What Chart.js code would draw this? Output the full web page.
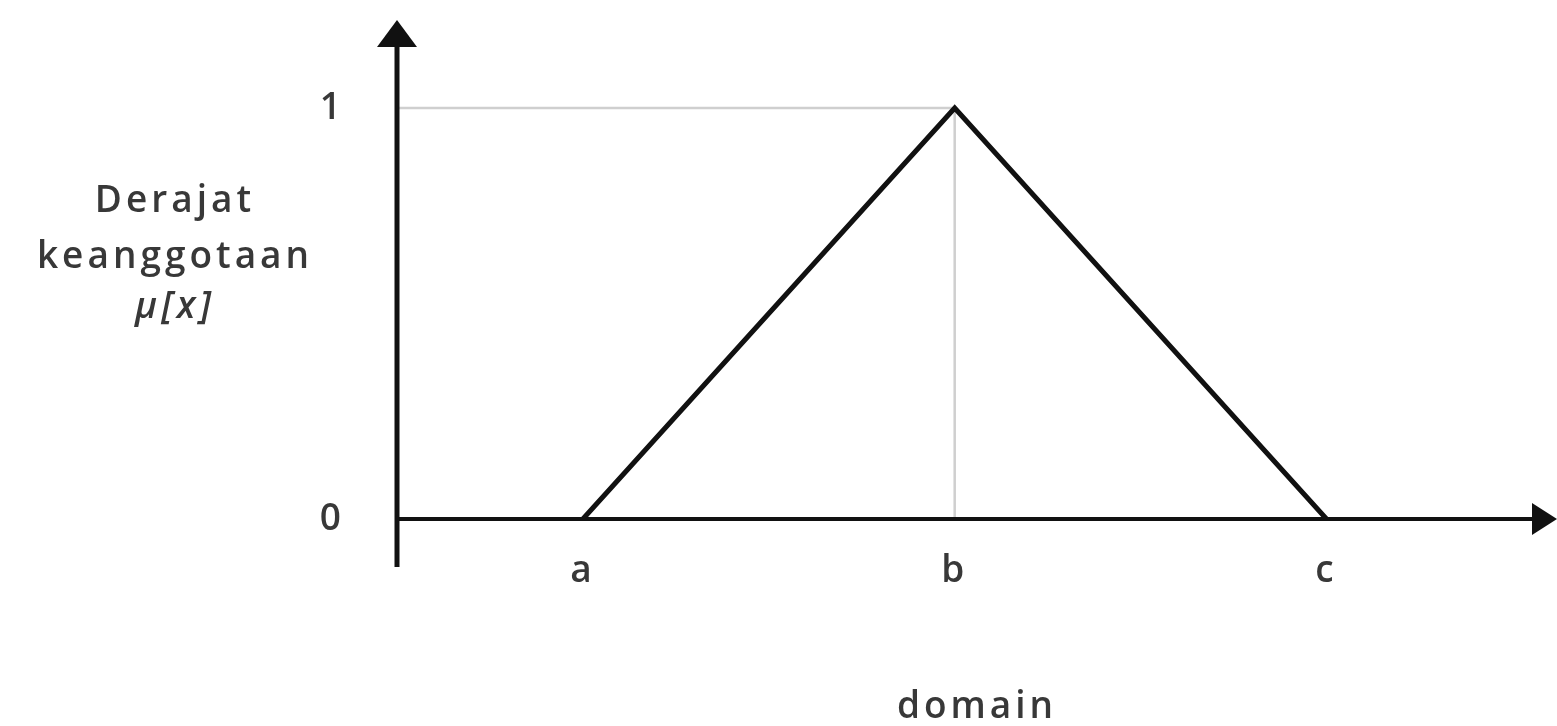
<!DOCTYPE html>
<html>
<head>
<meta charset="utf-8">
<title>Fungsi keanggotaan segitiga</title>
<script src="https://cdn.jsdelivr.net/npm/chart.js@4.4.0/dist/chart.umd.min.js"></script>
<style>
  html, body { margin: 0; padding: 0; background: #fff; }
  #wrap { width: 1557px; height: 726px; }
</style>
</head>
<body>
<div id="wrap"><canvas id="membershipChart" width="1557" height="726"></canvas></div>
<script>
// triangular membership function: rises from a, peaks at b, falls to c
const domainLabels = ["a", "b", "c"];
const domainValues = [1, 3, 5];
const membershipValues = [0, 1, 0];
const degreeTicks = [0, 1];
const degreeLabels = ["0", "1"];
const yTitleLines = ["Derajat", "keanggotaan", "μ[x]"];
const xTitle = "domain";

const X_MAX = 6.24;
const Y_MAX = 1.214;
const TEXT_COLOR = "#383838";
const LINE_COLOR = "#111111";
const FONT = "'Open Sans', sans-serif";
const TEXT_SIZE = 37;

const trianglePoints = domainValues.map((x, i) => ({ x: x, y: membershipValues[i] }));
const peak = membershipValues.indexOf(Math.max(...membershipValues));
const guidePoints = [
  { x: 0, y: membershipValues[peak] },
  { x: domainValues[peak], y: membershipValues[peak] },
  { x: domainValues[peak], y: 0 },
];

// axes with arrow heads, plus the horizontal label on the left
const arrowAxes = {
  id: "arrowAxes",
  beforeDraw(chart) {
    chart.ctx.letterSpacing = "4px";
  },
  afterDatasetsDraw(chart) {
    const { ctx, chartArea, scales: { x, y } } = chart;
    const x0 = x.getPixelForValue(0);
    const y0 = y.getPixelForValue(0);
    ctx.save();
    ctx.strokeStyle = LINE_COLOR;
    ctx.fillStyle = LINE_COLOR;

    // vertical axis
    ctx.lineWidth = 5;
    ctx.beginPath();
    ctx.moveTo(x0, y0 + 48);
    ctx.lineTo(x0, chartArea.top + 26);
    ctx.stroke();
    ctx.beginPath();
    ctx.moveTo(x0, chartArea.top);
    ctx.lineTo(x0 - 20, chartArea.top + 27);
    ctx.lineTo(x0 + 20, chartArea.top + 27);
    ctx.closePath();
    ctx.fill();

    // horizontal axis
    ctx.lineWidth = 4;
    ctx.beginPath();
    ctx.moveTo(x0, y0);
    ctx.lineTo(chartArea.right - 23, y0);
    ctx.stroke();
    ctx.beginPath();
    ctx.moveTo(chartArea.right, y0);
    ctx.lineTo(chartArea.right - 25, y0 - 16);
    ctx.lineTo(chartArea.right - 25, y0 + 16);
    ctx.closePath();
    ctx.fill();
    ctx.restore();
  },
  afterDraw(chart) {
    const ctx = chart.ctx;
    ctx.save();
    ctx.fillStyle = TEXT_COLOR;
    ctx.textAlign = "center";
    ctx.textBaseline = "alphabetic";
    const baselines = [212, 268, 318];
    yTitleLines.forEach((line, i) => {
      ctx.font = (i === 2 ? "italic " : "") + "600 " + TEXT_SIZE + "px " + FONT;
      ctx.fillText(line, 175, baselines[i]);
    });
    ctx.restore();
  }
};

const labelFont = { family: FONT, size: TEXT_SIZE, weight: "600" };

new Chart(document.getElementById("membershipChart"), {
  type: "scatter",
  data: {
    datasets: [
      {
        data: guidePoints,
        showLine: true,
        borderColor: "#cfcfcf",
        borderWidth: 2.5,
        pointRadius: 0,
        order: 2,
      },
      {
        data: trianglePoints,
        showLine: true,
        borderColor: LINE_COLOR,
        borderWidth: 5,
        borderJoinStyle: "miter",
        pointRadius: 0,
        order: 1,
      },
    ],
  },
  options: {
    responsive: false,
    animation: false,
    layout: { padding: { top: 20, left: 0, right: 0, bottom: 0 } },
    plugins: { legend: { display: false }, tooltip: { enabled: false } },
    scales: {
      x: {
        type: "linear",
        min: 0,
        max: X_MAX,
        grid: { display: false },
        border: { display: false },
        afterBuildTicks: (scale) => {
          scale.ticks = domainValues.map((v) => ({ value: v }));
        },
        afterFit: (scale) => {
          scale.height = 207;
          scale.paddingLeft = 0;
          scale.paddingRight = 0;
        },
        ticks: {
          padding: 22,
          color: TEXT_COLOR,
          font: labelFont,
          callback: (value) => domainLabels[domainValues.indexOf(value)],
        },
        title: {
          display: true,
          text: xTitle,
          color: TEXT_COLOR,
          font: labelFont,
          padding: { top: 0, bottom: -4 },
        },
      },
      y: {
        type: "linear",
        min: 0,
        max: Y_MAX,
        grid: { display: false },
        border: { display: false },
        afterBuildTicks: (scale) => {
          scale.ticks = degreeTicks.map((v) => ({ value: v }));
        },
        afterFit: (scale) => {
          scale.width = 397;
          scale.paddingTop = 0;
          scale.paddingBottom = 0;
        },
        ticks: {
          padding: 44,
          color: TEXT_COLOR,
          font: labelFont,
          callback: (value) => degreeLabels[degreeTicks.indexOf(value)],
        },
      },
    },
  },
  plugins: [arrowAxes],
});
</script>
</body>
</html>
